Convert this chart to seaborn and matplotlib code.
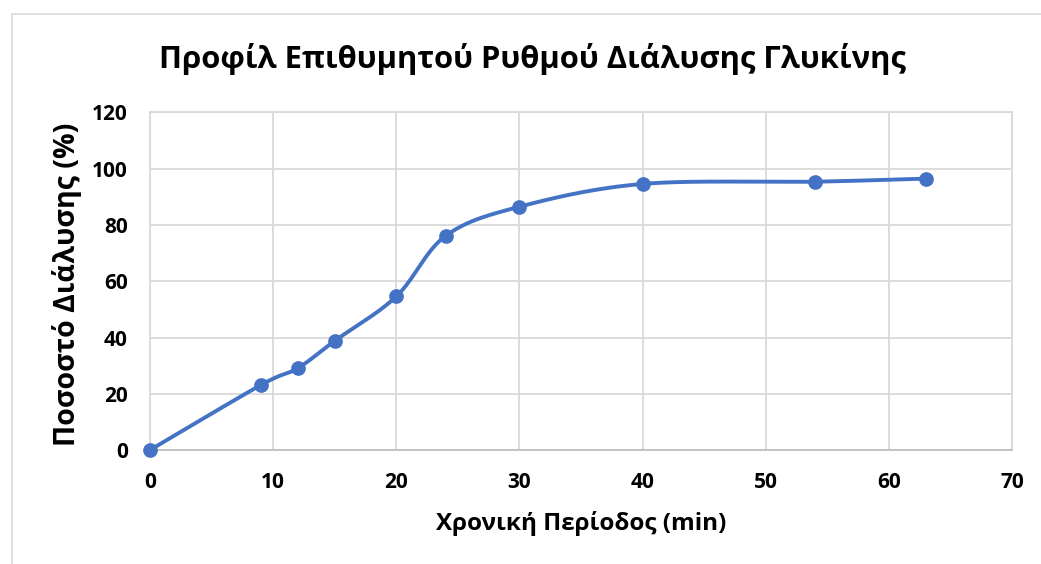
import numpy as np
import pandas as pd
import matplotlib
matplotlib.use("Agg")
import matplotlib.pyplot as plt
import seaborn as sns
from matplotlib.patches import Rectangle

time_min = [0, 9, 12, 15, 20, 24, 30, 40, 54, 63]
dissolution_pct = [0, 23.1, 29.1, 38.8, 54.6, 76.1, 86.5, 94.6, 95.4, 96.5]
x_ticks = [0, 10, 20, 30, 40, 50, 60, 70]
y_ticks = [0, 20, 40, 60, 80, 100, 120]

title = "Προφίλ Επιθυμητού Ρυθμού Διάλυσης Γλυκίνης"
xlabel = "Χρονική Περίοδος (min)"
ylabel = "Ποσοστό Διάλυσης (%)"

sns.set_theme(style="white")
plt.rcParams['font.family'] = ['Open Sans', 'DejaVu Sans']

color = "#4472C4"

def smooth(xs, ys, n=40):
    # Catmull-Rom style Bezier smoothing (as in spreadsheet smoothed lines)
    xs = np.asarray(xs, float); ys = np.asarray(ys, float)
    P = np.column_stack([xs, ys])
    out = []
    for i in range(len(P) - 1):
        p0 = P[i - 1] if i > 0 else P[i]
        p1 = P[i]; p2 = P[i + 1]
        p3 = P[i + 2] if i + 2 < len(P) else P[i + 1]
        c1 = p1 + (p2 - p0) / 6.0
        c2 = p2 - (p3 - p1) / 6.0
        t = np.linspace(0, 1, n)[:, None]
        seg = ((1 - t) ** 3) * p1 + 3 * ((1 - t) ** 2) * t * c1 + 3 * (1 - t) * t ** 2 * c2 + t ** 3 * p2
        out.append(seg if i == 0 else seg[1:])
    S = np.vstack(out)
    return S[:, 0], S[:, 1]

sx, sy = smooth(time_min, dissolution_pct)
curve = pd.DataFrame({"t": sx, "p": sy})
pts = pd.DataFrame({"t": time_min, "p": dissolution_pct})

fig = plt.figure(figsize=(10.41, 5.64), dpi=100)
ax = fig.add_axes([150 / 1041, 1 - 450 / 564, (1012 - 150) / 1041, (450 - 112.5) / 564])

sns.lineplot(data=curve, x="t", y="p", ax=ax, color=color, linewidth=2.8, sort=False, zorder=3)
sns.scatterplot(data=pts, x="t", y="p", ax=ax, color=color, s=112, edgecolor=color, linewidth=0, zorder=4, clip_on=False)

ax.set_xlim(0, 70)
ax.set_ylim(0, 120)
ax.set_xticks(x_ticks)
ax.set_yticks(y_ticks)
ax.grid(True, color="#D9D9D9", linewidth=1.3)
ax.set_axisbelow(True)
for s in ["top", "right", "left"]:
    ax.spines[s].set_color("#D9D9D9")
    ax.spines[s].set_linewidth(1.3)
ax.spines["bottom"].set_color("#BFBFBF")
ax.spines["bottom"].set_linewidth(1.3)
ax.tick_params(axis="both", length=0, labelsize=15, labelcolor="black")
ax.tick_params(axis="x", pad=16)
ax.tick_params(axis="y", pad=16)
for lab in ax.get_xticklabels() + ax.get_yticklabels():
    lab.set_fontweight("bold")

ax.set_xlabel(xlabel, fontsize=17.5, fontweight="bold", color="black", va="center")
ax.xaxis.set_label_coords(0.5, (450 - 523) / 337.5)
ax.set_ylabel(ylabel, fontsize=20.5, fontweight="bold", color="black", va="center")
ax.yaxis.set_label_coords((67 - 150) / 862, (450 - 284) / 337.5)
fig.text(532.5 / 1041, 1 - 59 / 564, title, ha="center", va="center", fontsize=22.3, fontweight="bold", color="black")

fig.patches.append(Rectangle((12 / 1041, -0.1), 1.2, 1 - 14 / 564 + 0.1, transform=fig.transFigure,
                             fill=False, edgecolor="#D9D9D9", linewidth=1.2))

fig.savefig("out.png", dpi=100)
